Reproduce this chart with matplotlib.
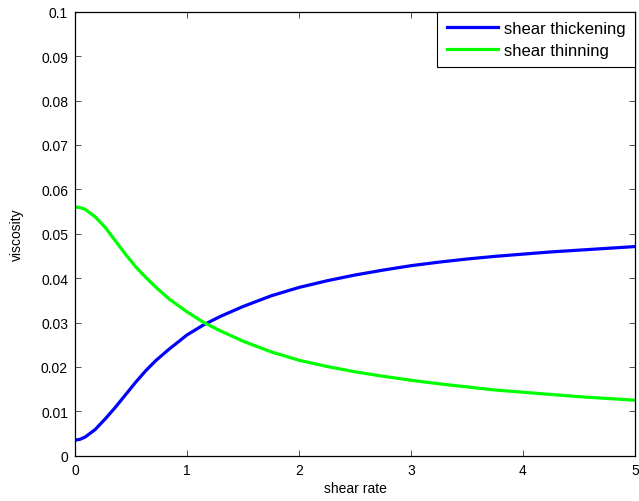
import matplotlib
matplotlib.use("Agg")
import matplotlib.pyplot as plt

# values
shear_rate = [0.0, 0.045, 0.09, 0.18, 0.27, 0.36, 0.45, 0.54, 0.63, 0.72, 0.84,
              1.0, 1.15, 1.3, 1.5, 1.75, 2.0, 2.25, 2.5, 2.75, 3.0, 3.25, 3.5,
              3.75, 4.0, 4.25, 4.5, 4.75, 5.0]
thickening = [0.0035, 0.0037, 0.0042, 0.0059, 0.0083, 0.0109, 0.0137, 0.0165,
              0.0191, 0.0214, 0.0240, 0.0272, 0.0295, 0.0314, 0.0336, 0.0360,
              0.0379, 0.0394, 0.0407, 0.0418, 0.0428, 0.0436, 0.0443, 0.0449,
              0.0454, 0.0459, 0.0463, 0.0467, 0.0471]
thinning = [0.0560, 0.0559, 0.0555, 0.0538, 0.0514, 0.0484, 0.0454, 0.0426,
            0.0402, 0.0380, 0.0353, 0.0324, 0.0300, 0.0281, 0.0258, 0.0234,
            0.0215, 0.0201, 0.0189, 0.0179, 0.0170, 0.0162, 0.0155, 0.0148,
            0.0143, 0.0138, 0.0133, 0.0129, 0.0125]
xticks = [0, 1, 2, 3, 4, 5]
yticks = [0, 0.01, 0.02, 0.03, 0.04, 0.05, 0.06, 0.07, 0.08, 0.09, 0.1]
ytick_labels = ["0", "0.01", "0.02", "0.03", "0.04", "0.05", "0.06", "0.07",
                "0.08", "0.09", "0.1"]

plt.rcParams["font.family"] = ["Liberation Sans", "DejaVu Sans"]
plt.rcParams["font.size"] = 10

fig = plt.figure(figsize=(6.39, 5.02), dpi=100)
ax = fig.add_axes([0.1174, 0.0902, 0.8763, 0.8845])

ax.plot(shear_rate, thickening, color="#0000ff", lw=2.3, label="shear thickening")
ax.plot(shear_rate, thinning, color="#00ff00", lw=2.3, label="shear thinning")

ax.set_xlim(0, 5)
ax.set_ylim(0, 0.1)
ax.set_xticks(xticks)
ax.set_xticklabels([str(t) for t in xticks])
ax.set_yticks(yticks)
ax.set_yticklabels(ytick_labels)
ax.tick_params(direction="in", top=True, right=True, length=4, width=0.6,
               color="#333333", labelsize=10, pad=5)
for sp in ax.spines.values():
    sp.set_linewidth(0.9)
    sp.set_color("black")

ax.set_xlabel("shear rate", labelpad=3)
ax.set_ylabel("viscosity", labelpad=12)

leg = ax.legend(loc="upper right", fancybox=False, framealpha=1,
                edgecolor="black", borderaxespad=0, handlelength=3.1,
                handletextpad=0.36, borderpad=0.55, labelspacing=0.4,
                fontsize=12)
leg.get_frame().set_linewidth(0.8)

fig.savefig("out.png", dpi=100)
